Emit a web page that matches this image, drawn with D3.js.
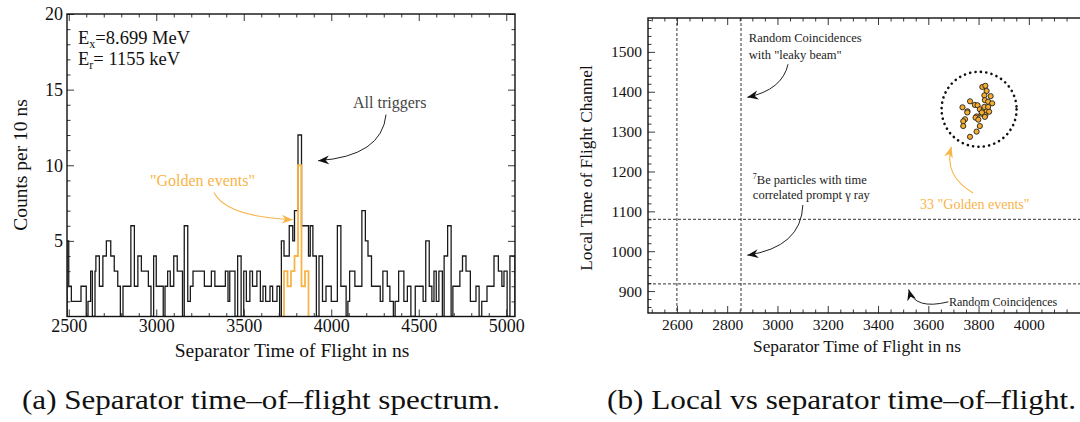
<!DOCTYPE html>
<html>
<head>
<meta charset="utf-8">
<script src="https://cdn.jsdelivr.net/npm/d3@7"></script>
<style>
  body { margin: 0; background: #fff; }
  svg text { font-family: "Liberation Serif", "Times New Roman", serif; }
</style>
</head>
<body>
<svg id="fig" width="1080" height="422"></svg>
<script>
// ---- data (a): separator TOF histogram, variable-width steps
var binLow = [2490, 2500, 2515, 2570, 2600, 2610, 2625, 2635, 2650, 2655,
              2675, 2695, 2715, 2740, 2760, 2780, 2795, 2810, 2855, 2875,
              2895, 2915, 2955, 2970, 2985, 3000, 3040, 3050, 3065, 3080,
              3100, 3120, 3150, 3160, 3180, 3195, 3210, 3275, 3315, 3335,
              3395, 3410, 3420, 3450, 3465, 3485, 3500, 3515, 3535, 3550,
              3575, 3595, 3610, 3625, 3650, 3665, 3690, 3705, 3715, 3730,
              3760, 3780, 3790, 3810, 3830, 3870, 3880, 3895, 3915, 3930,
              3950, 3970, 4000, 4035, 4055, 4085, 4095, 4105, 4135, 4175,
              4195, 4210, 4230, 4280, 4295, 4320, 4335, 4355, 4365, 4385,
              4415, 4435, 4455, 4480, 4525, 4540, 4560, 4575, 4587, 4600,
              4615, 4635, 4645, 4665, 4685, 4695, 4735, 4750, 4770, 4795,
              4827, 4845, 4860, 4890, 4930, 4955, 4975, 4987, 5005, 5021];
var binCounts = [5, 2, 1, 2, 0, 1, 3, 0, 3, 4,
                 2, 4, 5, 4, 3, 2, 0, 2, 6, 2,
                 4, 3, 2, 0, 4, 2, 0, 2, 3, 2,
                 4, 3, 0, 6, 1, 2, 3, 2, 3, 2,
                 3, 1, 3, 0, 4, 0, 3, 1, 3, 2,
                 3, 1, 2, 1, 2, 1, 2, 0, 5, 4,
                 6, 5, 7, 12, 6, 4, 6, 4, 0, 4,
                 1, 2, 1, 6, 2, 0, 1, 3, 2, 7,
                 5, 4, 2, 1, 3, 2, 1, 0, 1, 3,
                 1, 2, 0, 2, 1, 5, 2, 1, 3, 1,
                 3, 0, 4, 6, 0, 2, 3, 4, 3, 1,
                 2, 0, 1, 2, 4, 3, 2, 3, 0, 4];
var histEnd = 5050;

var goldenLow = [3730, 3750, 3770, 3790, 3810, 3830, 3850];
var goldenCounts = [3, 2, 3, 4, 10, 2, 3];
var goldenEnd = 3870;

var histXTicks = [2500, 3000, 3500, 4000, 4500, 5000];
var histYTicks = [5, 10, 15, 20];

// ---- data (b): local vs separator TOF, the 33 golden events
var goldenTof = [3815, 3827, 3832, 3823, 3848, 3766, 3825, 3838, 3854, 3785,
                 3796, 3736, 3805, 3821, 3832, 3756, 3755, 3842, 3812, 3827,
                 3792, 3788, 3825, 3799, 3746, 3739, 3739, 3805, 3792, 3766,
                 3823, 3813, 3838];
var goldenLocal = [1412, 1415, 1402, 1391, 1389, 1376, 1379, 1375, 1371, 1367,
                   1366, 1361, 1356, 1356, 1351, 1351, 1348, 1350, 1345, 1341,
                   1338, 1335, 1337, 1330, 1331, 1326, 1314, 1314, 1300, 1287,
                   1362, 1348, 1362];
var cutTof = [2600, 2855];
var cutLocal = [918, 1080];
var goldenCluster = [3802, 1356];

var tofXTicks = [2600, 2800, 3000, 3200, 3400, 3600, 3800, 4000];
var localYTicks = [900, 1000, 1100, 1200, 1300, 1400, 1500];

var orange = "#f8b447";
var svg = d3.select("#fig");

var defs = svg.append("defs");
function marker(id, color) {
  defs.append("marker")
      .attr("id", id)
      .attr("viewBox", "-11 -6 12 12")
      .attr("refX", 0).attr("refY", 0)
      .attr("markerUnits", "userSpaceOnUse")
      .attr("markerWidth", 12).attr("markerHeight", 12)
      .attr("orient", "auto")
    .append("path")
      .attr("d", "M0,0 L-11,-4.5 L-7.5,0 L-11,4.5 Z")
      .attr("fill", color);
}
marker("arrBlack", "#111");
marker("arrOrange", orange);

function stepPoints(lows, counts, end) {
  var pts = [[lows[0], 0]];
  lows.forEach(function(l, i) {
    var hi = i < lows.length - 1 ? lows[i + 1] : end;
    pts.push([l, counts[i]], [hi, counts[i]]);
  });
  pts.push([end, 0]);
  return pts;
}

function inwardAxes(g, x, y, w, h, xMaj, xMin, yMaj, yMin, fs, xPad, yPad) {
  g.append("g").attr("transform", "translate(0," + h + ")")
    .call(d3.axisBottom(x).tickValues(xMaj).tickSizeInner(-7).tickSizeOuter(0).tickPadding(xPad).tickFormat(d3.format("d")));
  g.append("g").attr("transform", "translate(0," + h + ")")
    .call(d3.axisBottom(x).tickValues(xMin).tickSizeInner(-3.5).tickSizeOuter(0).tickFormat(""));
  g.append("g").call(d3.axisTop(x).tickValues(xMaj).tickSizeInner(-7).tickSizeOuter(0).tickFormat(""));
  g.append("g").call(d3.axisTop(x).tickValues(xMin).tickSizeInner(-3.5).tickSizeOuter(0).tickFormat(""));
  g.append("g")
    .call(d3.axisLeft(y).tickValues(yMaj).tickSizeInner(-7).tickSizeOuter(0).tickPadding(yPad).tickFormat(d3.format("d")));
  g.append("g").call(d3.axisLeft(y).tickValues(yMin).tickSizeInner(-3.5).tickSizeOuter(0).tickFormat(""));
  g.append("g").attr("transform", "translate(" + w + ",0)")
    .call(d3.axisRight(y).tickValues(yMaj).tickSizeInner(-7).tickSizeOuter(0).tickFormat(""));
  g.append("g").attr("transform", "translate(" + w + ",0)")
    .call(d3.axisRight(y).tickValues(yMin).tickSizeInner(-3.5).tickSizeOuter(0).tickFormat(""));
  g.selectAll(".domain").remove();
  g.selectAll(".tick line").attr("stroke", "#222").attr("stroke-width", 0.9);
  g.selectAll(".tick text").attr("font-family", "Liberation Serif").attr("font-size", fs).attr("fill", "#111");
  g.append("rect").attr("width", w).attr("height", h)
    .attr("fill", "none").attr("stroke", "#111").attr("stroke-width", 1.4);
}

// ================= panel (a) =================
var A = { left: 67, top: 14, w: 448, h: 302.5 };
var xa = d3.scaleLinear().domain([2490, 5050]).range([0, A.w]);
var ya = d3.scaleLinear().domain([0, 20]).range([A.h, 0]);
var ga = svg.append("g").attr("transform", "translate(" + A.left + "," + A.top + ")");

defs.append("clipPath").attr("id", "clipA").append("rect").attr("width", A.w).attr("height", A.h);

var lineA = d3.line().x(function(d) { return xa(d[0]); }).y(function(d) { return ya(d[1]); });

ga.append("path")
    .attr("clip-path", "url(#clipA)")
    .attr("d", lineA(stepPoints(binLow, binCounts, histEnd)))
    .attr("fill", "none")
    .attr("stroke", "#1a1a1a").attr("stroke-width", 1.3);

ga.append("path")
    .attr("clip-path", "url(#clipA)")
    .attr("d", lineA(stepPoints(goldenLow, goldenCounts, goldenEnd)))
    .attr("fill", "none")
    .attr("stroke", orange).attr("stroke-width", 1.8);

inwardAxes(ga, xa, ya, A.w, A.h,
  histXTicks, d3.range(2500, 5050, 100).filter(function(v) { return v % 500; }),
  histYTicks, d3.range(1, 20).filter(function(v) { return v % 5; }),
  18, 3, 4);

// energy labels
var ex = ga.append("text").attr("x", xa(2553)).attr("y", ya(18.0)).attr("font-size", 18.5).attr("fill", "#111");
ex.append("tspan").text("E");
ex.append("tspan").attr("font-size", 12).attr("dy", 4).text("x");
ex.append("tspan").attr("dy", -4).text("=8.699 MeV");
var er = ga.append("text").attr("x", xa(2553)).attr("y", ya(16.6)).attr("font-size", 18.5).attr("fill", "#111");
er.append("tspan").text("E");
er.append("tspan").attr("font-size", 12).attr("dy", 4).text("r");
er.append("tspan").attr("dy", -4).text("= 1155 keV");

ga.append("text").attr("x", xa(4334)).attr("y", ya(13.8))
    .attr("text-anchor", "middle").attr("font-size", 16).attr("fill", "#444")
    .text("All triggers");
ga.append("path")
    .attr("d", "M" + xa(4313) + "," + ya(13.35) + " Q" + xa(4290) + "," + ya(10.6) + " " + xa(3925) + "," + ya(10.3))
    .attr("fill", "none").attr("stroke", "#222").attr("stroke-width", 1)
    .attr("marker-end", "url(#arrBlack)");

ga.append("text").attr("x", xa(3264)).attr("y", ya(8.6))
    .attr("text-anchor", "middle").attr("font-size", 16).attr("fill", orange)
    .text("\"Golden events\"");
ga.append("path")
    .attr("d", "M" + xa(3330) + "," + ya(8.2) + " Q" + xa(3400) + "," + ya(6.6) + " " + xa(3780) + "," + ya(6.4))
    .attr("fill", "none").attr("stroke", orange).attr("stroke-width", 1.1)
    .attr("marker-end", "url(#arrOrange)");

svg.append("text").attr("x", 292).attr("y", 357)
    .attr("text-anchor", "middle").attr("font-size", 19.5).attr("fill", "#111")
    .text("Separator Time of Flight in ns");
svg.append("text").attr("transform", "translate(27,165) rotate(-90)")
    .attr("text-anchor", "middle").attr("font-size", 19.5).attr("fill", "#111")
    .text("Counts per 10 ns");

// ================= panel (b) =================
var B = { left: 648, top: 18, w: 443.7, h: 295 };
var xb = d3.scaleLinear().domain([2485, 4250]).range([0, B.w]);
var yb = d3.scaleLinear().domain([845, 1585]).range([B.h, 0]);
var gb = svg.append("g").attr("transform", "translate(" + B.left + "," + B.top + ")");

gb.selectAll("line.vcut").data(cutTof).enter().append("line")
    .attr("class", "vcut")
    .attr("x1", function(d) { return xb(d); }).attr("x2", function(d) { return xb(d); })
    .attr("y1", 0).attr("y2", B.h)
    .attr("stroke", "#333").attr("stroke-width", 1).attr("stroke-dasharray", "3,2");
gb.selectAll("line.hcut").data(cutLocal).enter().append("line")
    .attr("class", "hcut")
    .attr("x1", 0).attr("x2", B.w)
    .attr("y1", function(d) { return yb(d); }).attr("y2", function(d) { return yb(d); })
    .attr("stroke", "#333").attr("stroke-width", 1).attr("stroke-dasharray", "3,2");

inwardAxes(gb, xb, yb, B.w, B.h,
  tofXTicks, d3.range(2500, 4250, 50).filter(function(v) { return v % 200; }),
  localYTicks, d3.range(860, 1585, 20).filter(function(v) { return v % 100; }),
  15.5, 6, 6);

gb.append("circle")
    .attr("cx", xb(goldenCluster[0])).attr("cy", yb(goldenCluster[1])).attr("r", 37.5)
    .attr("fill", "none").attr("stroke", "#111").attr("stroke-width", 2.6)
    .attr("stroke-linecap", "round").attr("stroke-dasharray", "0.1,5.3");

gb.selectAll("circle.ev").data(goldenTof).enter().append("circle")
    .attr("class", "ev")
    .attr("cx", function(d) { return xb(d); })
    .attr("cy", function(d, i) { return yb(goldenLocal[i]); })
    .attr("r", 2.6)
    .attr("fill", "#f5ad2f").attr("stroke", "#222").attr("stroke-width", 0.9);

// annotations
gb.append("text").attr("x", xb(2886)).attr("y", yb(1524)).attr("font-size", 12.5).attr("fill", "#222")
    .text("Random Coincidences");
gb.append("text").attr("x", xb(2886)).attr("y", yb(1482)).attr("font-size", 12.5).attr("fill", "#222")
    .text("with \"leaky beam\"");
gb.append("path")
    .attr("d", "M" + xb(3042) + "," + yb(1469) + " Q" + xb(3020) + "," + yb(1405) + " " + xb(2880) + "," + yb(1386))
    .attr("fill", "none").attr("stroke", "#222").attr("stroke-width", 1)
    .attr("marker-end", "url(#arrBlack)");

var be = gb.append("text").attr("x", xb(2902)).attr("y", yb(1168)).attr("font-size", 12.5).attr("fill", "#222");
be.append("tspan").attr("font-size", 8).attr("dy", -5).text("7");
be.append("tspan").attr("dy", 5).text("Be particles with time");
gb.append("text").attr("x", xb(2902)).attr("y", yb(1130)).attr("font-size", 12.5).attr("fill", "#222")
    .text("correlated prompt \u03b3 ray");
gb.append("path")
    .attr("d", "M" + xb(3101) + "," + yb(1116) + " Q" + xb(3095) + "," + yb(1010) + " " + xb(2880) + "," + yb(990))
    .attr("fill", "none").attr("stroke", "#222").attr("stroke-width", 1)
    .attr("marker-end", "url(#arrBlack)");

gb.append("text").attr("x", xb(3682)).attr("y", yb(862)).attr("font-size", 12).attr("fill", "#222")
    .text("Random Coincidences");
gb.append("path")
    .attr("d", "M" + xb(3680) + "," + yb(873) + " Q" + xb(3545) + "," + yb(852) + " " + xb(3522) + "," + yb(904))
    .attr("fill", "none").attr("stroke", "#222").attr("stroke-width", 1)
    .attr("marker-end", "url(#arrBlack)");

gb.append("text").attr("x", xb(3785)).attr("y", yb(1105))
    .attr("text-anchor", "middle").attr("font-size", 14).attr("fill", orange)
    .text("33 \"Golden events\"");
gb.append("path")
    .attr("d", "M" + xb(3778) + "," + yb(1146) + " Q" + xb(3660) + "," + yb(1190) + " " + xb(3692) + "," + yb(1262))
    .attr("fill", "none").attr("stroke", orange).attr("stroke-width", 1.1)
    .attr("marker-end", "url(#arrOrange)");

svg.append("text").attr("x", 857).attr("y", 352)
    .attr("text-anchor", "middle").attr("font-size", 17.3).attr("fill", "#111")
    .text("Separator Time of Flight in ns");
svg.append("text").attr("transform", "translate(592,168) rotate(-90)")
    .attr("text-anchor", "middle").attr("font-size", 17.3).attr("fill", "#111")
    .text("Local Time of Flight Channel");

// ================= captions =================
svg.append("text").attr("x", 22).attr("y", 409)
    .attr("font-size", 28).attr("fill", "#111")
    .attr("textLength", 478).attr("lengthAdjust", "spacingAndGlyphs")
    .text("(a) Separator time\u2013of\u2013flight spectrum.");
svg.append("text").attr("x", 607).attr("y", 409)
    .attr("font-size", 28).attr("fill", "#111")
    .attr("textLength", 469).attr("lengthAdjust", "spacingAndGlyphs")
    .text("(b) Local vs separator time\u2013of\u2013flight.");
</script>
</body>
</html>
